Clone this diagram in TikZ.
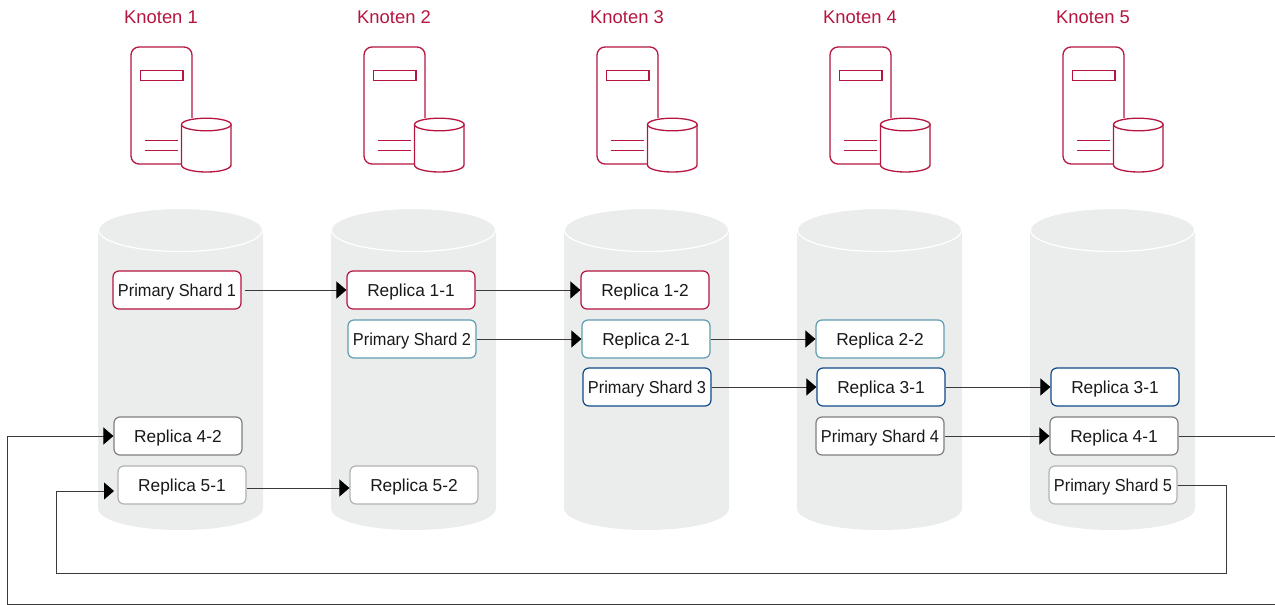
\documentclass[tikz,border=0pt]{standalone}
\usepackage{fontspec}
\setmainfont{Liberation Sans}
\newfontfamily\primaryfont[FakeStretch=0.945]{Liberation Sans}
\usetikzlibrary{arrows.meta}
\definecolor{rot}{HTML}{B5153F}
\definecolor{tuerkis}{HTML}{5F9DB2}
\definecolor{blau}{HTML}{0F4A8A}
\definecolor{dunkelgrau}{HTML}{7F7F7F}
\definecolor{hellgrau}{HTML}{B2B2B2}
\definecolor{speichergrau}{HTML}{EBECEC}
\definecolor{linie}{HTML}{3A3A3A}
\begin{document}
\begin{tikzpicture}[x=1pt, y=-1pt]
\tikzset{
  shard/.style={draw, fill=white, rounded corners=6pt, line width=1.2pt, minimum width=128pt, minimum height=38pt, inner sep=0pt, text=black!90, text height=12pt, text depth=0pt, font=\fontsize{17.3}{20}\selectfont},
  primary/.style={shard, font=\primaryfont\fontsize{17.3}{20}\selectfont},
  knoten/.style={text=rot, inner sep=0pt, font=\fontsize{18.4}{21}\selectfont},
  pfeil/.style={draw=linie, line width=1pt, -{Triangle[length=10pt, width=17pt, color=black]}},
  server/.pic={
    \draw[rot, line width=1.3pt, rounded corners=8pt] (181,164) -- (131,164) -- (131,47) -- (192,47) -- (192,118);
    \draw[rot, line width=1.3pt] (140.5,70.5) rectangle (183,80.5);
    \draw[rot, line width=1.3pt] (145,140.5) -- (178,140.5);
    \draw[rot, line width=1.3pt] (145,150.5) -- (178,150.5);
    \draw[rot, line width=1.3pt, fill=white] (181.5,124.5) -- (181.5,165) .. controls (181.5,169) and (193,172) .. (206.5,172) .. controls (220,172) and (231,169) .. (231,165) -- (231,124.5);
    \draw[rot, line width=1.3pt, fill=white] (206.3,124.5) ellipse [x radius=24.8, y radius=6.3];
  },
  speicher/.pic={
    \fill[speichergrau] (98,230) -- (98,508) .. controls (98,521) and (135,530) .. (180.5,530) .. controls (226,530) and (263,521) .. (263,508) -- (263,230) -- cycle;
    \draw[white, line width=1.2pt, fill=speichergrau] (180.5,230) ellipse [x radius=82, y radius=21.5];
  }
}
\useasboundingbox (0,0) rectangle (1275,605);
% Knoten
\pic at (0,0) {speicher};
\pic at (233,0) {speicher};
\pic at (466,0) {speicher};
\pic at (699,0) {speicher};
\pic at (932,0) {speicher};
\pic at (0,0) {server};
\pic at (233,0) {server};
\pic at (466,0) {server};
\pic at (699,0) {server};
\pic at (932,0) {server};
\node[knoten] (K1) at (161,17) {Knoten 1};
\node[knoten] (K2) at (394,17) {Knoten 2};
\node[knoten] (K3) at (627,17) {Knoten 3};
\node[knoten] (K4) at (860,17) {Knoten 4};
\node[knoten] (K5) at (1093,17) {Knoten 5};
% Shards
\node[primary, draw=rot] (P1) at (177,290) {Primary Shard 1};
\node[shard, draw=rot] (R11) at (411,290) {Replica 1-1};
\node[shard, draw=rot] (R12) at (645,290) {Replica 1-2};
\node[primary, draw=tuerkis] (P2) at (412,339) {Primary Shard 2};
\node[shard, draw=tuerkis] (R21) at (646,339) {Replica 2-1};
\node[shard, draw=tuerkis] (R22) at (880,339) {Replica 2-2};
\node[primary, draw=blau] (P3) at (647,387) {Primary Shard 3};
\node[shard, draw=blau] (R31) at (881,387) {Replica 3-1};
\node[shard, draw=blau] (R32) at (1115,387) {Replica 3-1};
\node[primary, draw=dunkelgrau] (P4) at (880,436) {Primary Shard 4};
\node[shard, draw=dunkelgrau] (R41) at (1114,436) {Replica 4-1};
\node[shard, draw=dunkelgrau] (R42) at (178,436) {Replica 4-2};
\node[primary, draw=hellgrau] (P5) at (1113,485) {Primary Shard 5};
\node[shard, draw=hellgrau] (R51) at (182,485) {Replica 5-1};
\node[shard, draw=hellgrau] (R52) at (414,485) {Replica 5-2};
% Umlauf
\coordinate (A1) at (1226,485);
\coordinate (A2) at (1226,573);
\coordinate (A3) at (56,573);
\coordinate (A4) at (56,491);
\coordinate (A5) at (114,491);
\coordinate (B1) at (1275,436);
\coordinate (B2) at (1275,604);
\coordinate (B3) at (7,604);
\coordinate (B4) at (7,436);
% Pfeile
\draw[pfeil, shorten <=3pt] (P1.east) -- (R11.west);
\draw[pfeil] (R11.east) -- (R12.west);
\draw[pfeil] (P2.east) -- (R21.west);
\draw[pfeil] (R21.east) -- (R22.west);
\draw[pfeil] (P3.east) -- (R31.west);
\draw[pfeil] (R31.east) -- (R32.west);
\draw[pfeil] (P4.east) -- (R41.west);
\draw[pfeil] ([yshift=-3pt]R51.east) -- ([yshift=-3pt]R52.west);
\draw[draw=linie, line width=1pt] (R41.east) -- (B1);
\draw[pfeil] (B2) -- (B3) -- (B4) -- (R42.west);
\draw[pfeil] (P5.east) -- (A1) -- (A2) -- (A3) -- (A4) -- (A5);
\end{tikzpicture}
\end{document}
